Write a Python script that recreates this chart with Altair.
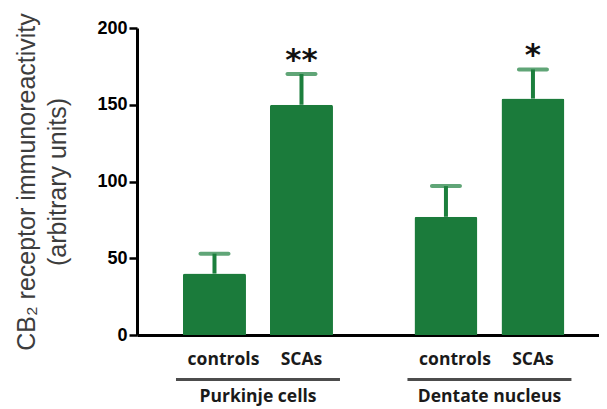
import altair as alt
import pandas as pd

groups = ["Purkinje cells", "Purkinje cells", "Dentate nucleus", "Dentate nucleus"]
conds = ["controls", "SCAs", "controls", "SCAs"]
means = [40, 150, 77, 154]
errs = [13, 20, 20, 19]
stars = ["", "**", "", "*"]

group_order = ["Purkinje cells", "Dentate nucleus"]
cond_order = ["controls", "SCAs"]
y_ticks = [0, 50, 100, 150, 200]
y_title = ["CB\u2082 receptor immunoreactivity", "(arbitrary units)"]

df = pd.DataFrame({"group": groups, "cond": conds, "mean": means, "err": errs, "star": stars})
df["upper"] = df["mean"] + df["err"]

GREEN = "#1b7b3b"
ERR = "#1c7f3d"

yscale = alt.Scale(domain=[0, 200], nice=False)
yaxis = alt.Axis(values=y_ticks, grid=False, labelFont="Liberation Sans", labelFontWeight="bold",
                 labelFontSize=18, labelColor="black", tickColor="black", tickWidth=2.5, tickSize=8,
                 domainColor="black", domainWidth=3, labelPadding=2,
                 titleFont="Liberation Sans", titleFontSize=25, titleFontWeight="normal",
                 titleColor="#3d3d3d", titlePadding=26, titleLineHeight=31)


def yf(field):
    return alt.Y(field, scale=yscale, axis=yaxis, title=y_title)


def y0():
    return alt.YDatum(0, scale=yscale, axis=yaxis, title=y_title)


x = alt.X("group:N", sort=group_order,
          scale=alt.Scale(paddingInner=0.352, paddingOuter=0.174, align=0.571),
          axis=alt.Axis(labels=False, ticks=False, title=None, domainColor="black", domainWidth=3))
xo = alt.XOffset("cond:N", sort=cond_order, scale=alt.Scale(paddingInner=0.276, paddingOuter=0))

base = alt.Chart(df)

bars = base.mark_bar(color=GREEN, cornerRadiusTopLeft=2, cornerRadiusTopRight=2).encode(x=x, xOffset=xo, y=yf("mean:Q"))
rule = base.mark_rule(color=ERR, strokeWidth=4).encode(x=x, xOffset=xo, y=yf("mean:Q"), y2="upper:Q")
cap = base.mark_tick(color=ERR, size=32, thickness=4, orient="horizontal", cornerRadius=2).encode(
    x=x, xOffset=xo, y=yf("upper:Q"))
star = base.mark_text(font="DejaVu Sans", fontWeight="bold", fontSize=31, dy=-4, baseline="alphabetic",
                      color="#111111").encode(x=x, xOffset=xo, y=yf("upper:Q"), text="star:N")

lab_font = dict(font="Open Sans", fontWeight="bold", fontSize=17.5, color="#1a1a1a", baseline="alphabetic")
lab_c = base.transform_filter(alt.datum.cond == "controls").mark_text(dy=30, dx=9, **lab_font).encode(
    x=x, xOffset=xo, y=y0(), text="cond:N")
lab_s = base.transform_filter(alt.datum.cond == "SCAs").mark_text(dy=30, **lab_font).encode(
    x=x, xOffset=xo, y=y0(), text="cond:N")
underline = base.transform_filter(alt.datum.cond == "controls").mark_tick(
    color="black", orient="horizontal", size=164, thickness=3, yOffset=44.5).encode(x=x, y=y0())
glab = base.transform_filter(alt.datum.cond == "controls").mark_text(dy=67, **lab_font).encode(
    x=x, y=y0(), text="group:N")

chart = alt.layer(bars, rule, cap, star, lab_c, lab_s, underline, glab).properties(
    width=462, height=307,
    padding={"left": 129, "top": 20, "right": 0, "bottom": 72},
    autosize=alt.AutoSizeParams(type="none"),
).configure_view(stroke=None)

chart.save("out.html", embed_options={"renderer": "svg", "actions": False})
